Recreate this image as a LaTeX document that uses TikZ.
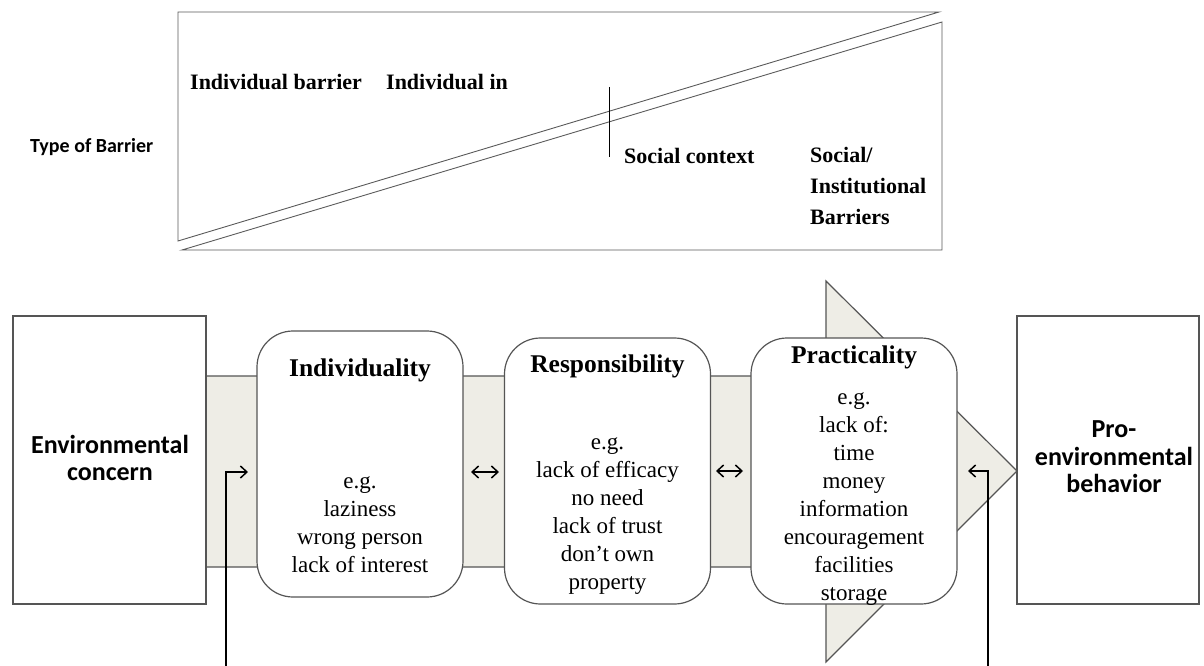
\documentclass[tikz,border=0pt]{standalone}
\usepackage{fontspec}
\setmainfont{Liberation Serif}
\newfontfamily\calfont{Carlito}
\usetikzlibrary{arrows.meta}
\definecolor{bandfill}{RGB}{238,237,230}
\definecolor{edgegray}{RGB}{85,85,85}
\tikzstyle{plainbox}=[draw=edgegray,line width=1.2pt,fill=white,rectangle,inner sep=0pt]
\tikzstyle{barrierbox}=[plainbox,rounded corners=36pt,minimum width=206pt,minimum height=266pt]
\tikzstyle{endbox}=[plainbox,minimum height=288pt]
\tikzstyle{heading}=[font=\fontsize{25.5}{28}\selectfont\bfseries,inner sep=0pt,anchor=base]
\tikzstyle{bodytext}=[font=\fontsize{23}{28}\selectfont,align=center,inner sep=0pt,anchor=north]
\tikzstyle{toptext}=[font=\fontsize{22}{31}\selectfont\bfseries,inner sep=0pt,align=left]
\tikzstyle{sidetext}=[font=\calfont\fontsize{26}{27.5}\selectfont\bfseries,align=center,inner sep=0pt,anchor=north]
\tikzstyle{band}=[draw=edgegray,line width=1.2pt,fill=bandfill]
\tikzstyle{wedge}=[draw=gray!70!black,line width=0.9pt]
\tikzstyle{flow}=[draw=black,line width=1.5pt,-{Straight Barb[length=6.5pt,width=12pt]}]
\tikzstyle{twoway}=[flow,{Straight Barb[length=6.5pt,width=12pt]}-{Straight Barb[length=6.5pt,width=12pt]}]

\begin{document}
\begin{tikzpicture}[x=1pt, y=-1pt]
    \useasboundingbox (0,0) rectangle (1204,666);
    % Type of barrier: two wedges with a marker between them
    \node[font=\calfont\fontsize{20}{24}\selectfont\bfseries, inner sep=0pt, anchor=base west] (type) at (30,152) {Type of Barrier};
    \path[wedge] (178,12) -- (939,12) -- (178,241) -- cycle;
    \path[wedge] (182,250) -- (942,250) -- (942,22) -- cycle;
    \coordinate (marktop) at (609,87);
    \coordinate (markbot) at (609,157);
    \draw[line width=0.9pt] (marktop) -- (markbot);
    \foreach \pos/\name/\txt in {{(190,90)/indbar/Individual barrier}, {(386,90)/indin/Individual in}, {(624,163)/social/Social context}}
        \node[toptext, anchor=base west] (\name) at \pos {\txt};
    \node[toptext, anchor=north west] (inst) at (810,147.5) {Social/\\Institutional\\Barriers};
    % The broad arrow behind the barriers
    \path[band] (206,376) -- (826,376) -- (826,281) -- (1017,471) -- (826,662) -- (826,567) -- (206,567) -- cycle;
    % Start and end of the path
    \node[endbox, minimum width=193pt] (concern) at (109.5,460) {};
    \node[endbox, minimum width=182pt] (behavior) at (1108,460) {};
    \node[sidetext] (concerntext) at (110,435) {Environmental\\concern};
    \node[sidetext] (behaviortext) at (1114,420.5) {Pro-\\environmental\\behavior};
    % Then the three barriers
    \foreach \pos/\name in {{(360,464)/ind}, {(607.5,471)/resp}, {(854,471)/prac}}
        \node[barrierbox] (\name) at \pos {};
    \foreach \pos/\name/\txt in {{(360,376)/indhead/Individuality}, {(607.5,372)/resphead/Responsibility}, {(854,363)/prachead/Practicality}}
        \node[heading] (\name) at \pos {\txt};
    \node[bodytext] (indtext) at (360,476.5) {e.g.\\laziness\\wrong person\\lack of interest};
    \node[bodytext] (resptext) at (607.5,437.5) {e.g.\\lack of efficacy\\no need\\lack of trust\\don't own\\property};
    \node[bodytext] (practext) at (854,392.5) {e.g.\\lack of:\\time\\money\\information\\encouragement\\facilities\\storage};
    % Links between the barriers and feedback
    \coordinate (fbleft) at (226,666);
    \coordinate (fblefttip) at (248,472);
    \coordinate (fbright) at (988,666);
    \coordinate (fbrighttip) at (968,471);
    \draw[flow] (fbleft) |- (fblefttip);
    \draw[flow] (fbright) |- (fbrighttip);
    \foreach \a/\b/\y in {471/499/472, 716/743/471}
        \draw[twoway] (\a,\y) -- (\b,\y);
\end{tikzpicture}
\end{document}
